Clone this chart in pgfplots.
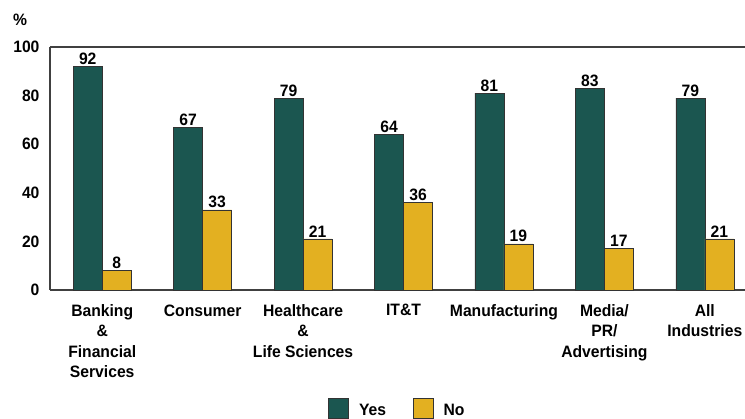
\documentclass[border=0pt]{standalone}
\usepackage{fontspec}
\setmainfont{Liberation Sans}
\newfontfamily\cf[FakeStretch=0.95]{Liberation Sans}
\usepackage{pgfplots}
\pgfplotsset{compat=1.18}
\definecolor{teal1}{HTML}{1B5650}
\definecolor{gold1}{HTML}{E3B021}
\newcommand{\lf}{\cf\fontsize{16.5}{20.5}\selectfont\bfseries}
\begin{document}
\begin{tikzpicture}
\begin{axis}[name=ax, scale only axis, width=695pt, height=243pt,
 clip=false,
 ybar=0pt, bar width=29pt,
 xmin=-0.52, xmax=6.4, ymin=0, ymax=100,
 xtick={0,...,6},
 xticklabels={{Banking\\\&\\Financial\\Services},Consumer,{Healthcare\\\&\\Life Sciences},IT\&T,Manufacturing,{Media/\\PR/\\Advertising},{All\\Industries}},
 x tick label style={align=center, anchor=north, yshift=-11pt},
 ytick={0,20,...,100},
 y tick label style={xshift=-7pt},
 axis x line*=bottom, axis y line*=left,
 axis line style={line width=1.1pt, draw=black!75, -},
 major tick length=0pt,
 /pgf/number format/assume math mode=true,
 tick label style={font=\lf},
 nodes near coords,
 every node near coord/.append style={font=\lf, inner sep=1.5pt, text=black},
 legend columns=2,
 legend style={at={(0.5,-0.443)}, anchor=north, draw=none, fill=none, inner sep=0pt, font=\lf,
   /tikz/every even column/.append style={column sep=25pt}},
 legend image code/.code={\draw[#1] (0pt,-8pt) rectangle (20pt,12pt); \path (28pt,0pt);},
]
\addplot[fill=teal1, draw=black!80, line width=0.6pt] coordinates {(0,92) (1,67) (2,79) (3,64) (4,81) (5,83) (6,79)};
\addplot[fill=gold1, draw=black!80, line width=0.6pt] coordinates {(0,8) (1,33) (2,21) (3,36) (4,19) (5,17) (6,21)};
\legend{Yes,No}
\draw[line width=1.1pt, draw=black!75] (rel axis cs:0,1) -- (rel axis cs:1,1);
\end{axis}
\node[font=\lf] at ([xshift=-30pt,yshift=27pt]ax.north west) {\%};
\pgfresetboundingbox
\useasboundingbox ([xshift=-50pt,yshift=-129pt]ax.south west) rectangle ([yshift=47pt]ax.north east);
\end{tikzpicture}
\end{document}
